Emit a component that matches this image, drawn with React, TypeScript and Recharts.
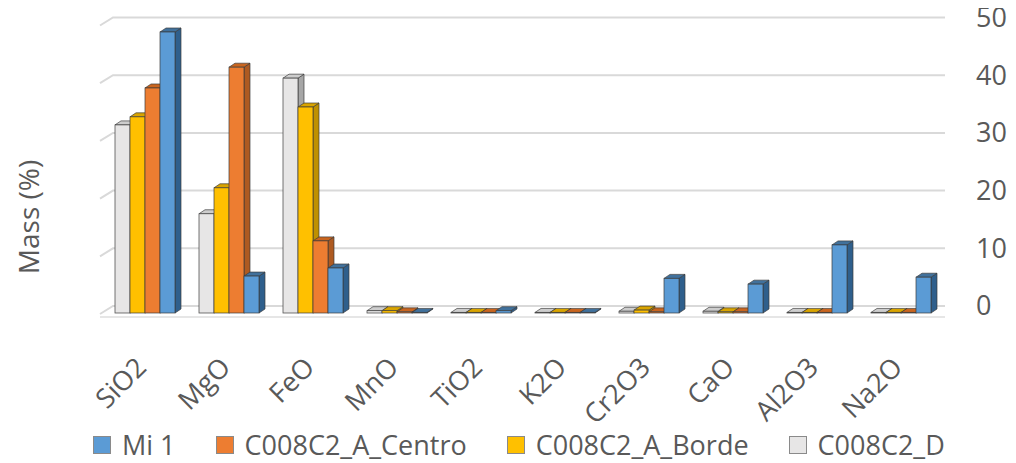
import { BarChart, Bar, XAxis, YAxis, CartesianGrid, Legend } from "recharts";

const FONT = "'Open Sans', sans-serif";
const TEXT = "#595959";

// oxide categories along the x axis
const oxides = ["SiO2", "MgO", "FeO", "MnO", "TiO2", "K2O", "Cr2O3", "CaO", "Al2O3", "Na2O"];

// mass % per sample
const mi1 = [48.7, 6.4, 7.8, 0.1, 0.4, 0.1, 6.0, 5.0, 11.8, 6.2];
const centro = [39.0, 42.6, 12.5, 0.2, 0.1, 0.1, 0.2, 0.2, 0.1, 0.1];
const borde = [34.0, 21.7, 35.7, 0.4, 0.1, 0.1, 0.5, 0.2, 0.1, 0.1];
const sampleD = [32.6, 17.2, 40.7, 0.4, 0.1, 0.1, 0.3, 0.3, 0.1, 0.1];

const massTicks = [0, 10, 20, 30, 40, 50];

const data = oxides.map((oxide, i) => ({
  oxide,
  d: sampleD[i],
  borde: borde[i],
  centro: centro[i],
  mi1: mi1[i],
}));

// drawn left to right inside each group
const series = [
  { key: "d", name: "C008C2_D", front: "#E7E6E6", side: "#A6A6A6", top: "#CDCDCD" },
  { key: "borde", name: "C008C2_A_Borde", front: "#FFC000", side: "#BF9000", top: "#D9A400" },
  { key: "centro", name: "C008C2_A_Centro", front: "#ED7D31", side: "#AE5A21", top: "#C9651F" },
  { key: "mi1", name: "Mi 1", front: "#5B9BD5", side: "#2F5F8C", top: "#41719C" },
];

// depth offset of the pseudo-3D boxes
const DX = 6;
const DY = -4;
// back wall sits a little above the bar fronts
const WALL = 7;
// left edge of the right-hand value labels
const LABEL_X = 968;

function Box3D(props: any) {
  const { x, y, width: w, height: h, colors } = props;
  if (x == null || y == null) return null;
  const stroke = { stroke: "#3a3a3a", strokeWidth: 0.8, strokeOpacity: 0.85 };
  return (
    <g>
      <polygon
        points={`${x + w},${y} ${x + w + DX},${y + DY} ${x + w + DX},${y + h + DY} ${x + w},${y + h}`}
        fill={colors.side}
        {...stroke}
      />
      <polygon
        points={`${x},${y} ${x + DX},${y + DY} ${x + w + DX},${y + DY} ${x + w},${y}`}
        fill={colors.top}
        {...stroke}
      />
      <rect x={x} y={y} width={w} height={Math.max(h, 0)} fill={colors.front} {...stroke} />
    </g>
  );
}

function GridLine(props: any) {
  const { x1, x2, y1, index } = props;
  const y = y1 - WALL;
  return (
    <g key={`grid-${index}-${y1}`}>
      <polyline
        points={`${x1 - 3},${y + 8} ${x1 + 10},${y} ${x2 + 2},${y}`}
        fill="none"
        stroke="#D9D9D9"
        strokeWidth={2}
      />
      {/* front edge of the floor under the bottom line */}
      {index === 0 ? (
        <line x1={x1 - 3} x2={x2 + 2} y1={y + 11} y2={y + 11} stroke="#E6E6E6" strokeWidth={2} />
      ) : null}
    </g>
  );
}

function OxideTick({ x, y, payload }: any) {
  const ax = x + 3;
  const ay = y + 48;
  return (
    <text
      x={ax}
      y={ay}
      textAnchor="end"
      transform={`rotate(-45 ${ax} ${ay})`}
      fill={TEXT}
      fontSize={27}
      fontFamily={FONT}
    >
      {payload.value}
    </text>
  );
}

function MassTick({ y, payload }: any) {
  return (
    <text x={LABEL_X} y={y - WALL} dy="0.35em" textAnchor="start" fill={TEXT} fontSize={27} fontFamily={FONT}>
      {payload.value}
    </text>
  );
}

function LegendContent() {
  return (
    <div
      style={{
        height: 36,
        display: "flex",
        alignItems: "center",
        paddingLeft: 85,
        gap: 40,
        fontFamily: FONT,
        fontSize: 27,
        lineHeight: "36px",
        color: TEXT,
      }}
    >
      {[...series].reverse().map((s) => (
        <div key={s.key} style={{ display: "flex", alignItems: "center" }}>
          <span
            style={{
              width: 18,
              height: 18,
              background: s.front,
              border: "1px solid #8a8a8a",
              marginRight: 11,
              boxSizing: "border-box",
            }}
          />
          <span>{s.name}</span>
        </div>
      ))}
    </div>
  );
}

export default function App() {
  return (
    <div style={{ position: "relative", width: 1008, height: 463, marginTop: -8 }}>
      <div
        style={{
          position: "absolute",
          left: 20,
          top: 217,
          transform: "translate(-50%, -50%) rotate(-90deg)",
          fontFamily: FONT,
          fontSize: 28,
          color: TEXT,
          whiteSpace: "nowrap",
        }}
      >
        Mass (%)
      </div>
      <BarChart
        width={1008}
        height={463}
        data={data}
        margin={{ top: 24.5, right: 8, bottom: 0, left: 95 }}
        barGap={0}
        barSize={15}
      >
        <CartesianGrid vertical={false} horizontal={GridLine} />
        <XAxis dataKey="oxide" height={114} axisLine={false} tickLine={false} tick={OxideTick} interval={0} />
        <YAxis
          orientation="right"
          width={65}
          domain={[0, 50]}
          ticks={massTicks}
          axisLine={false}
          tickLine={false}
          tick={MassTick}
        />
        <Legend verticalAlign="bottom" content={LegendContent} wrapperStyle={{ left: 0, width: 1008 }} />
        {series.map((s) => (
          <Bar
            key={s.key}
            dataKey={s.key}
            name={s.name}
            fill={s.front}
            isAnimationActive={false}
            shape={(p: any) => <Box3D {...p} colors={s} />}
          />
        ))}
      </BarChart>
    </div>
  );
}
